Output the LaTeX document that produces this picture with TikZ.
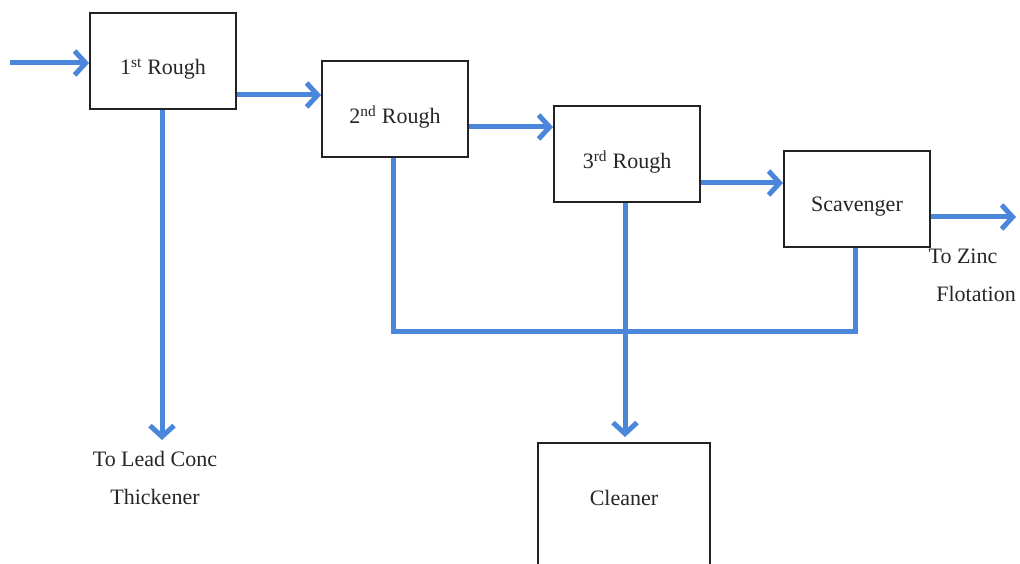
\documentclass[tikz,border=0pt]{standalone}
\usepackage{fontspec}
\setmainfont{Liberation Serif}
\usetikzlibrary{arrows.meta}
\definecolor{flowblue}{RGB}{74,134,218}
\definecolor{boxline}{RGB}{34,34,34}
\tikzset{
  unit/.style={draw=boxline, line width=2pt, fill=white, minimum width=146pt, minimum height=96pt, inner sep=0pt},
  lbl/.style={font=\fontsize{22}{26}\selectfont, text=black!85, inner sep=0pt},
  flow/.style={draw=flowblue, line width=5pt, -{Straight Barb[length=11pt,width=24pt]}},
  pipe/.style={draw=flowblue, line width=5pt},
}
\begin{document}
\begin{tikzpicture}[x=1pt,y=-1pt]
\useasboundingbox (0,0) rectangle (1020,564);
\clip (0,0) rectangle (1020,564);
% units
\node[unit] (r1) at (163,61) {};
\node[unit] (r2) at (395,109) {};
\node[unit] (r3) at (627,154) {};
\node[unit] (sc) at (857,199) {};
\node[unit, minimum width=172pt, minimum height=140pt] (cl) at (624,513) {};
% unit texts
\node[lbl] (t1) at (163,69) {1\textsuperscript{st} Rough};
\node[lbl] (t2) at (395,117) {2\textsuperscript{nd} Rough};
\node[lbl] (t3) at (627,162) {3\textsuperscript{rd} Rough};
\node[lbl] (t4) at (857,207) {Scavenger};
\node[lbl] (t5) at (624,498) {Cleaner};
% outside labels
\node[lbl] (lead1) at (155,459) {To Lead Conc};
\node[lbl] (lead2) at (155,497) {Thickener};
\node[lbl] (zinc1) at (963,256) {To Zinc};
\node[lbl] (zinc2) at (976,294) {Flotation};
% coordinates
\coordinate (feed) at (10,63);
\coordinate (leadend) at (162,440);
\coordinate (zincend) at (1016,217);
\coordinate (tailrow) at (0,331);
% connectors
\draw[flow] (feed) -- (feed -| r1.west);
\draw[flow] ([yshift=-34pt]r1.east) -- ([yshift=-34pt]r1.east -| r2.west);
\draw[flow] ([yshift=-18pt]r2.east) -- ([yshift=-18pt]r2.east -| r3.west);
\draw[flow] ([yshift=-29pt]r3.east) -- ([yshift=-29pt]r3.east -| sc.west);
\draw[flow] ([yshift=-18pt]sc.east) -- ([yshift=-18pt]sc.east -| zincend);
\draw[flow] ([xshift=-1pt]r1.south) -- ([xshift=-1pt]r1.south |- leadend);
\draw[pipe] ([xshift=-2pt]r2.south) -- ([xshift=-2pt]r2.south |- tailrow) -| ([xshift=-2pt]sc.south);
\draw[flow, shorten >=5pt] ([xshift=-2pt]r3.south) -- ([xshift=-2pt]r3.south |- cl.north);
\end{tikzpicture}
\end{document}
